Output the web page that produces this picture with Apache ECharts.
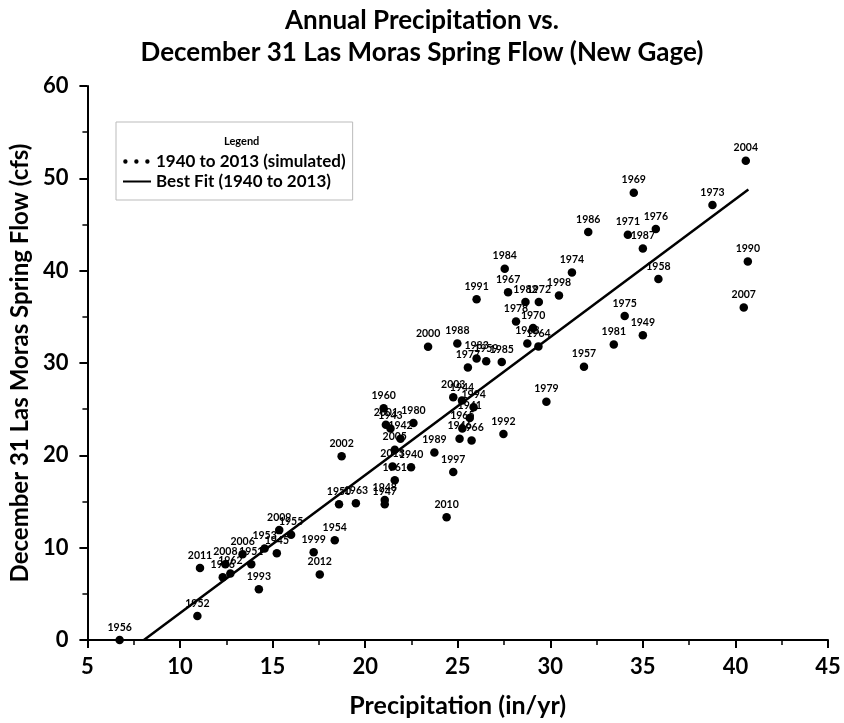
<!DOCTYPE html>
<html>
<head>
<meta charset="utf-8">
<script src="https://cdn.jsdelivr.net/npm/echarts@6/dist/echarts.min.js"></script>
<style>html,body{margin:0;padding:0;background:#fff}#c{width:844px;height:723px}</style>
</head>
<body>
<div id="c"></div>
<script>
const years  = [1956,1952,2011,1996,1962,2008,2006,1951,1953,1945,2009,1955,1993,1954,1999,2012,
  1960,2001,1943,1980,1942,2005,2013,1940,1961,1948,1947,1950,1963,2002,1989,1997,2010,1992,
  2003,1944,1994,1941,1965,1946,1966,1984,1974,1991,1967,1982,1972,1998,1978,1970,1968,1964,
  2000,1988,1983,1959,1985,1977,1979,2004,1969,1973,1986,1971,1976,1987,1990,1958,2007,1975,
  1949,1981,1957];
const precip = [6.74,10.94,11.08,12.31,12.72,12.45,13.38,13.85,14.57,15.23,15.36,16.0,14.26,18.36,17.22,17.55,
  21.0,21.12,21.37,22.61,21.91,21.6,21.48,22.48,21.6,21.06,21.06,18.59,19.5,18.73,23.74,24.76,24.4,27.47,
  24.76,25.23,25.86,25.65,25.25,25.1,25.75,27.54,31.17,26.02,27.72,28.66,29.38,30.47,28.15,29.07,28.76,29.36,
  23.4,24.98,26.02,26.54,27.38,25.55,29.79,40.56,34.51,38.76,32.05,34.19,35.7,35.0,40.67,35.84,40.45,34.02,
  35.0,33.43,31.82];
const flow   = [0.0,2.6,7.8,6.8,7.2,8.2,9.3,8.2,9.9,9.4,11.9,11.4,5.5,10.8,9.5,7.1,
  25.1,23.3,22.9,23.5,21.8,20.6,18.8,18.7,17.3,15.15,14.7,14.7,14.8,19.9,20.3,18.2,13.3,22.3,
  26.3,25.95,25.2,24.05,22.9,21.8,21.6,40.2,39.8,36.9,37.65,36.6,36.6,37.3,34.5,33.8,32.1,31.8,
  31.75,32.1,30.5,30.2,30.1,29.5,25.8,51.9,48.45,47.1,44.2,43.9,44.5,42.4,41.0,39.1,36.0,35.1,
  33.0,32.0,29.6];
const fitX = [8.05, 40.7];
const fitY = [0, 48.8];
const xTicks = [5,10,15,20,25,30,35,40,45];
const yTicks = [0,10,20,30,40,50,60];

const FONT = 'Lato, "Open Sans", sans-serif';
const chart = echarts.init(document.getElementById('c'), null, {renderer:'canvas'});
// invisible corner specks keep the icon box at 28x6
const corners = 'M0,0L0.01,0L0,0.01ZM28,6L27.99,6L28,5.99Z';
const circ = (cx) => 'M'+(cx-2.2)+',3a2.2,2.2 0 1,0 4.4,0a2.2,2.2 0 1,0 -4.4,0';
const dotsIcon = 'path://' + corners + circ(2.4) + circ(13.4) + circ(24.4);
const lineIcon = 'path://' + corners + 'M0,2H28V4H0Z';
chart.setOption({
  animation:false,
  backgroundColor:'#fff',
  title:[{
    text:'Annual Precipitation vs.\nDecember 31 Las Moras Spring Flow (New Gage)',
    left:'center', top:0,
    textStyle:{fontFamily:FONT, fontWeight:'bold', fontSize:26, lineHeight:32, color:'#000'}
  },{
    text:'Legend', left:219, top:131,
    textStyle:{fontFamily:FONT, fontWeight:'bold', fontSize:11, color:'#000'}
  }],
  legend:{
    orient:'vertical', left:116, top:122,
    padding:[31,7,10,7],
    borderColor:'#bbb', borderWidth:1,
    itemWidth:28, itemHeight:6, itemGap:3,
    textStyle:{fontFamily:FONT, fontWeight:'bold', fontSize:17, color:'#000'},
    data:[{name:'1940 to 2013 (simulated)', icon:dotsIcon},{name:'Best Fit (1940 to 2013)', icon:lineIcon}]
  },
  grid:{left:85, right:16, top:86, bottom:83},
  xAxis:{
    type:'value', min:xTicks[0], max:xTicks[xTicks.length-1], interval:5,
    name:'Precipitation (in/yr)', nameLocation:'middle', nameGap:53,
    nameTextStyle:{fontFamily:FONT, fontWeight:'bold', fontSize:25, color:'#000'},
    axisLine:{show:true, onZero:false, lineStyle:{color:'#000', width:2}},
    axisTick:{show:true, inside:false, length:8, lineStyle:{color:'#000', width:2}},
    minorTick:{show:true, splitNumber:2, length:5, lineStyle:{color:'#000', width:1.5}},
    axisLabel:{fontFamily:FONT, fontWeight:'bold', fontSize:22, color:'#000', margin:16},
    splitLine:{show:false}
  },
  yAxis:{
    type:'value', min:yTicks[0], max:yTicks[yTicks.length-1], interval:10,
    name:'December 31 Las Moras Spring Flow (cfs)', nameLocation:'middle', nameGap:50,
    nameTextStyle:{fontFamily:FONT, fontWeight:'bold', fontSize:24, color:'#000'},
    axisLine:{show:true, onZero:false, lineStyle:{color:'#000', width:2}},
    axisTick:{show:true, inside:false, length:8, lineStyle:{color:'#000', width:2}},
    minorTick:{show:true, splitNumber:2, length:5, lineStyle:{color:'#000', width:1.5}},
    axisLabel:{fontFamily:FONT, fontWeight:'bold', fontSize:22, color:'#000', margin:19},
    splitLine:{show:false}
  },
  series:[{
    name:'1940 to 2013 (simulated)', type:'scatter', symbol:'circle', symbolSize:8.5,
    itemStyle:{color:'#000', opacity:1},
    data: precip.map((p,i)=>({value:[p, flow[i]], name:String(years[i])})),
    label:{show:true, position:'top', distance:3, formatter:p=>p.name,
      fontFamily:FONT, fontWeight:'bold', fontSize:10.5, color:'#000'},
    labelLayout:{hideOverlap:false},
    z:3
  },{
    name:'Best Fit (1940 to 2013)', type:'line', symbol:'none',
    data: fitX.map((x,i)=>[x, fitY[i]]),
    lineStyle:{color:'#000', width:2.5},
    itemStyle:{color:'#000'},
    z:2
  }]
});
</script>
</body>
</html>
